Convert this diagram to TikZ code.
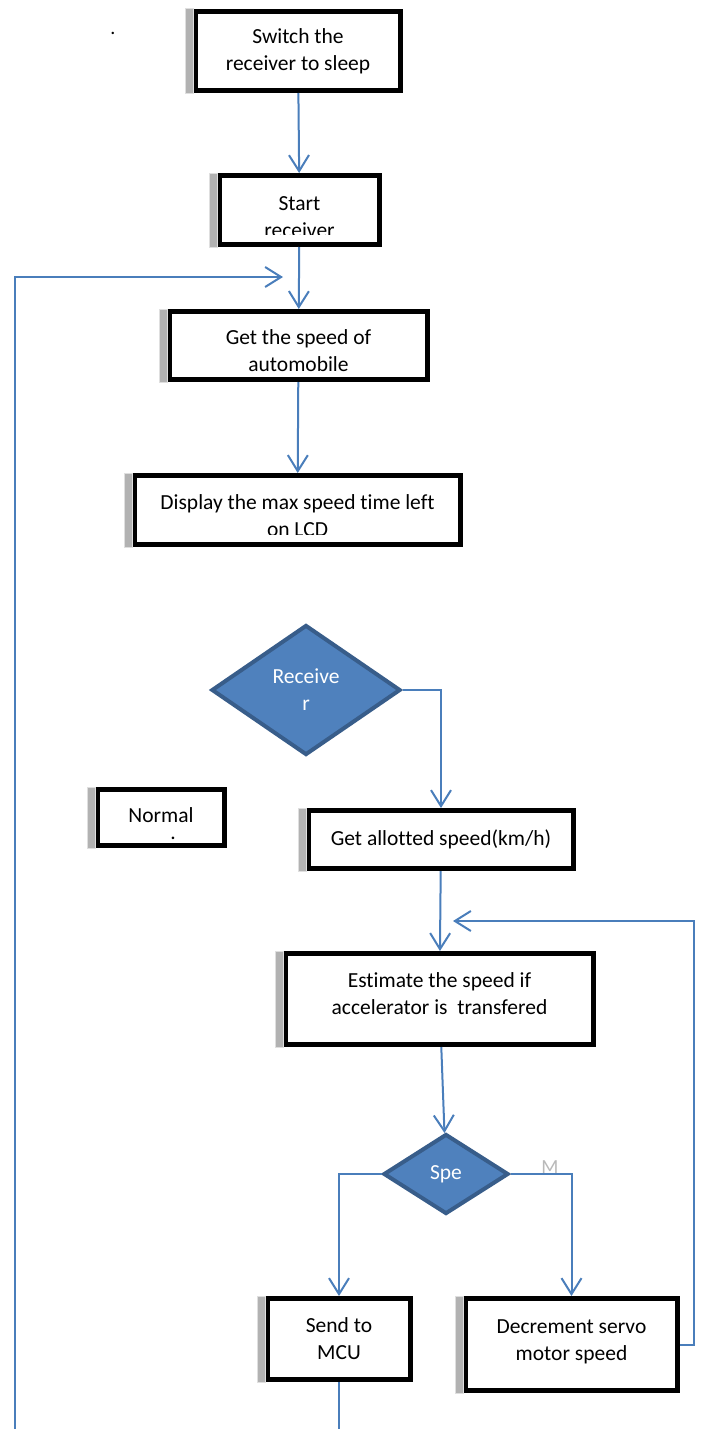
\documentclass[tikz,border=0pt]{standalone}
\usepackage{fontspec}
\setmainfont[Ligatures=NoCommon]{Carlito}
\usepackage{tikz}
\usetikzlibrary{arrows.meta,shapes.geometric}
\usetikzlibrary{positioning}
\definecolor{flowblue}{RGB}{79,129,189}
\definecolor{flowedge}{RGB}{56,93,138}
\definecolor{linkblue}{RGB}{74,126,187}
\tikzstyle{block} = [rectangle, draw=black, line width=5pt, fill=white,
    align=center, inner sep=0pt, font=\fontsize{21.5}{27}\selectfont]
\tikzstyle{decision} = [diamond, draw=flowedge, fill=flowblue, line width=4pt,
    text=white, align=center, inner sep=0pt, font=\fontsize{21.5}{27}\selectfont]
\tikzstyle{bar} = [fill=gray!60, draw=gray!25, line width=1pt]
\tikzstyle{link} = [draw=linkblue, line width=2pt,
    -{Straight Barb[length=16pt,width=20pt]}]
% taller first line, so the text sits lower in its box
\newcommand{\pushdown}[1]{\rule{0pt}{#1}}
\begin{document}
\begin{tikzpicture}[node distance = 2cm, auto]
  \useasboundingbox (0,0) rectangle (703pt,-1429pt);
  % Place nodes
  \node [block, minimum width=205pt, minimum height=79pt] (sleep)
  at (298pt,-51pt) {Switch the\\receiver to sleep};
  \node [block, below of=sleep, node distance=159pt, xshift=1.5pt,
  minimum width=160pt, minimum height=69pt] (start)
  {\pushdown{28pt}Start\\receiver};
  \node [block, below of=start, node distance=135.5pt, xshift=-1pt,
  minimum width=258pt, minimum height=68pt] (speed)
  {\pushdown{25pt}Get the speed of\\automobile};
  \node [block, below of=speed, node distance=164.5pt, xshift=-1pt,
  minimum width=326pt, minimum height=69pt] (lcd)
  {\pushdown{27pt}Display the max speed time left\\on LCD};
  \node [decision, below of=lcd, node distance=180pt, xshift=8.5pt,
  minimum width=189pt, minimum height=130pt] (rcv) {Receive\\r};
  \node [block, below of=rcv, node distance=127.5pt, xshift=-145pt,
  minimum width=127pt, minimum height=56pt] (normal)
  {\pushdown{28pt}Normal\\[-10pt]\hspace*{24pt}.};
  \node [block, below of=rcv, node distance=149.5pt, xshift=135pt,
  minimum width=265pt, minimum height=58pt] (allot) {Get allotted speed(km/h)};
  \node [block, below of=allot, node distance=159.5pt, xshift=-1.5pt,
  minimum width=308pt, minimum height=91pt] (est)
  {Estimate the speed if\\accelerator is~ transfered\\[-16pt]\mbox{}};
  \node [decision, below of=est, node distance=175pt, xshift=6.5pt,
  minimum width=125pt, minimum height=80pt] (spe) {Spe};
  \node [block, below of=spe, node distance=165pt, xshift=-107pt,
  minimum width=143pt, minimum height=81pt] (mcu) {Send to\\MCU};
  \node [block, below of=spe, node distance=170.5pt, xshift=125.5pt,
  minimum width=212pt, minimum height=92pt] (decr)
  {Decrement servo\\motor speed\\[-18pt]\mbox{}};
  \node [text=gray!55, font=\fontsize{20}{24}\selectfont, inner sep=0pt]
  (mlabel) at (550pt,-1167pt) {M};
  \node [font=\fontsize{20}{24}\selectfont, inner sep=0pt] (dot)
  at (113pt,-33pt) {.};
  % cut-off text lines
  \fill [white] ([xshift=5.5pt,yshift=5.5pt]start.south west)
  rectangle ([xshift=-5.5pt,yshift=12pt]start.south east);
  \fill [white] ([xshift=5.5pt,yshift=5.5pt]lcd.south west)
  rectangle ([xshift=-5.5pt,yshift=12pt]lcd.south east);
  % grey edges on the left
  \foreach \n in {sleep,start,speed,lcd,normal,allot,est,mcu,decr}
    \draw [bar] ([xshift=-8pt]\n.north west) rectangle (\n.south west);
  % Free ends
  \coordinate (speedin) at (283pt,-277pt);
  \coordinate (estin) at (453pt,-921pt);
  \coordinate (loopout) at (15pt,-1429pt);
  \coordinate (mcuout) at (mcu |- loopout);
  % Draw edges
  \draw [link] (sleep) -- (start);
  \draw [link] (start) -- (speed);
  \draw [link] (speed) -- (lcd);
  \draw [link] (rcv.east) -| (allot.north);
  \draw [link] (allot) -- (est);
  \draw [link] (est) -- (spe);
  \draw [link] (spe.west) -| (mcu.north);
  \draw [link] (spe.east) -| (decr.north);
  \draw [link] (decr.east) -- ++(14pt,0) |- (estin);
  \draw [link] (loopout) |- (speedin);
  \draw [link,-] (mcu) -- (mcuout);
\end{tikzpicture}
\end{document}
